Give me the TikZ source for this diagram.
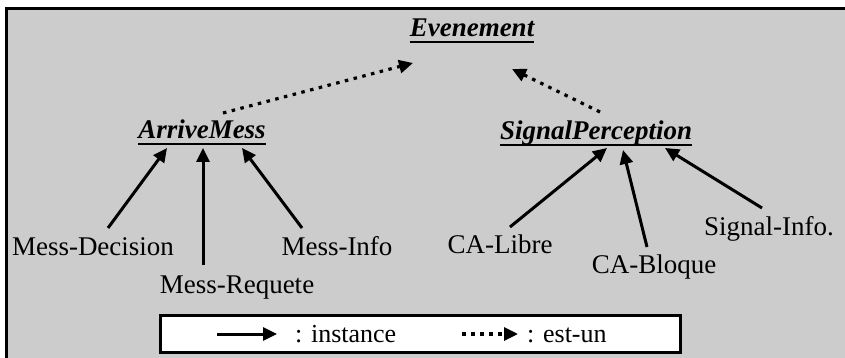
\documentclass[tikz,border=0pt]{standalone}
\usepackage{fontspec}
\setmainfont{Liberation Serif}
\usetikzlibrary{arrows.meta}
\begin{document}
\begin{tikzpicture}[x=1pt,y=-1pt,
  lbl/.style={inner sep=0pt,anchor=base,font=\fontsize{27}{30}\selectfont},
  cls/.style={inner sep=0pt,anchor=base,font=\fontsize{27}{30}\selectfont\bfseries\itshape},
  leg/.style={inner sep=0pt,anchor=base west,font=\fontsize{26}{30}\selectfont},
  inst/.style={line width=3pt,-{Triangle[length=14pt,width=13pt]}},
  isa/.style={line width=3.2pt,dash pattern=on 3.5pt off 5.5pt,-{Triangle[length=14pt,width=13pt]}},
  uline/.style={line width=2.6pt}]
\useasboundingbox (0,0) rectangle (845,358);
\fill[white] (0,0) rectangle (845,358);
\fill[black!20] (6,9) rectangle (850,365);
\draw[line width=3pt] (6,9) rectangle (850,365);
% class nodes
\node[cls] (ev) at (472,37) {Evenement};
\node[cls] (am) at (202,139) {ArriveMess};
\node[cls] (sp) at (596,140) {SignalPerception};
\foreach \n in {ev,am,sp}
  \draw[uline] ([yshift=-5pt]\n.base west) -- ([yshift=-5pt]\n.base east);
% instance nodes
\node[lbl] (md) at (93,255) {Mess-Decision};
\node[lbl] (mr) at (237,293) {Mess-Requete};
\node[lbl] (mi) at (337,255) {Mess-Info};
\node[lbl] (cl) at (500,253) {CA-Libre};
\node[lbl] (cb) at (654,273) {CA-Bloque};
\node[lbl] (si) at (769,235) {Signal-Info.};
% instance arrows
\draw[inst] ([shift={(15,-27)}]md.base) -- ([shift={(-35,9)}]am.base);
\draw[inst] ([shift={(-34,-28)}]mr.base) -- ([shift={(1,9)}]am.base);
\draw[inst] ([shift={(-35,-27)}]mi.base) -- ([shift={(40,9)}]am.base);
\draw[inst] ([shift={(10,-26)}]cl.base) -- ([shift={(11,8)}]sp.base);
\draw[inst] ([shift={(-7,-26)}]cb.base) -- ([shift={(27,10)}]sp.base);
\draw[inst] ([shift={(-7,-27)}]si.base) -- ([shift={(69,8)}]sp.base);
% is-a arrows
\draw[isa] ([shift={(21,-26)}]am.base) -- ([shift={(-59,26)}]ev.base);
\draw[isa] ([shift={(4,-28)}]sp.base) -- ([shift={(40,32)}]ev.base);
% legend
\draw[line width=3pt,fill=white] (160,315) rectangle (680,352);
\coordinate (l1a) at (217,334);
\coordinate (l1b) at (277,334);
\coordinate (l2a) at (462,334);
\coordinate (l2b) at (518,334);
\draw[inst] (l1a) -- (l1b);
\draw[isa] (l2a) -- (l2b);
\node[leg] (t1) at (295,342) {: instance};
\node[leg] (t2) at (527,342) {: est-un};
\end{tikzpicture}
\end{document}
